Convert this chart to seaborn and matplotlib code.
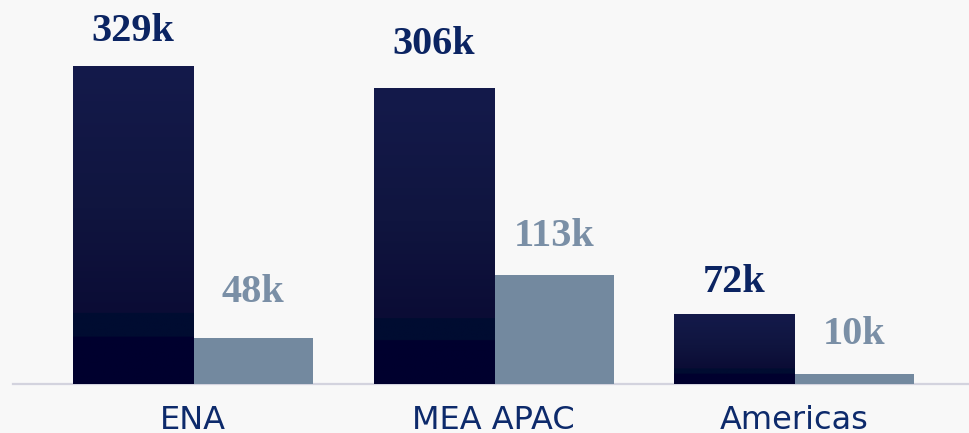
import numpy as np
import pandas as pd
import seaborn as sns
import matplotlib.pyplot as plt
from matplotlib.colors import LinearSegmentedColormap

# ---- data ----
regions = ["ENA", "MEA APAC", "Americas"]
primary_k = [329, 306, 72]
secondary_k = [48, 113, 10]
series_names = ["Primary", "Secondary"]

df = pd.DataFrame({
    "region": regions * 2,
    "series": [series_names[0]] * len(regions) + [series_names[1]] * len(regions),
    "value": primary_k + secondary_k,
})

# ---- style ----
BG = "#f8f8f8"
DARK = "#111849"
LIGHT = "#73899f"
DARK_LABEL = "#0b2462"
LIGHT_LABEL = "#7a8fa6"
CAT_COLOR = "#0d2a6b"

sns.set_theme(style="white")
plt.rcParams["font.family"] = ["DejaVu Sans"]

fig = plt.figure(figsize=(9.69, 4.33), dpi=100, facecolor=BG)
ax = fig.add_axes([13 / 969, 49 / 433, 956 / 969, 384 / 433])
ax.set_facecolor(BG)

sns.barplot(data=df, x="region", y="value", hue="series", order=regions,
            hue_order=series_names, palette=[DARK, LIGHT], width=0.8, gap=0,
            saturation=1, legend=False, linewidth=0, ax=ax)

xlim = (-0.6, 2.582)
ylim = (0, 397)

# gradient fill for the dark bars
cmap = LinearSegmentedColormap.from_list("navy", [
    (0.0, "#00002e"), (0.145, "#00002e"), (0.146, "#000c31"),
    (0.22, "#000c31"), (0.221, "#0b0c35"), (0.55, "#10153f"), (1.0, "#141a4b")])
grad = np.linspace(0, 1, 256).reshape(-1, 1)
for bar in ax.containers[0]:
    x0, w, h = bar.get_x(), bar.get_width(), bar.get_height()
    im = ax.imshow(grad, extent=[x0, x0 + w, 0, h], origin="lower", cmap=cmap,
                   aspect="auto", interpolation="bilinear", zorder=bar.get_zorder() + 0.1)
    im.set_clip_path(bar)

ax.set_xlim(*xlim)
ax.set_ylim(*ylim)

# value labels
label_gaps = [[25, 34, 22], [36, 29, 30]]
label_colors = [DARK_LABEL, LIGHT_LABEL]
for ci, cont in enumerate(ax.containers[:2]):
    for bi, bar in enumerate(cont):
        v = bar.get_height()
        ax.annotate(f"{int(round(v))}k", (bar.get_x() + bar.get_width() / 2, v),
                    xytext=(0, label_gaps[ci][bi]), textcoords="offset pixels",
                    ha="center", va="baseline", family="Liberation Serif",
                    fontweight="bold", fontsize=29, color=label_colors[ci])

for s in ["left", "right", "top"]:
    ax.spines[s].set_visible(False)
ax.spines["bottom"].set_color("#d3d3de")
ax.spines["bottom"].set_linewidth(1.6)
ax.spines["bottom"].set_zorder(0.5)
ax.set_yticks([])
ax.set_xlabel("")
ax.set_ylabel("")
ax.tick_params(axis="x", length=0, pad=15, labelsize=23, labelcolor=CAT_COLOR)

fig.savefig("out.png", dpi=100, facecolor=BG)
